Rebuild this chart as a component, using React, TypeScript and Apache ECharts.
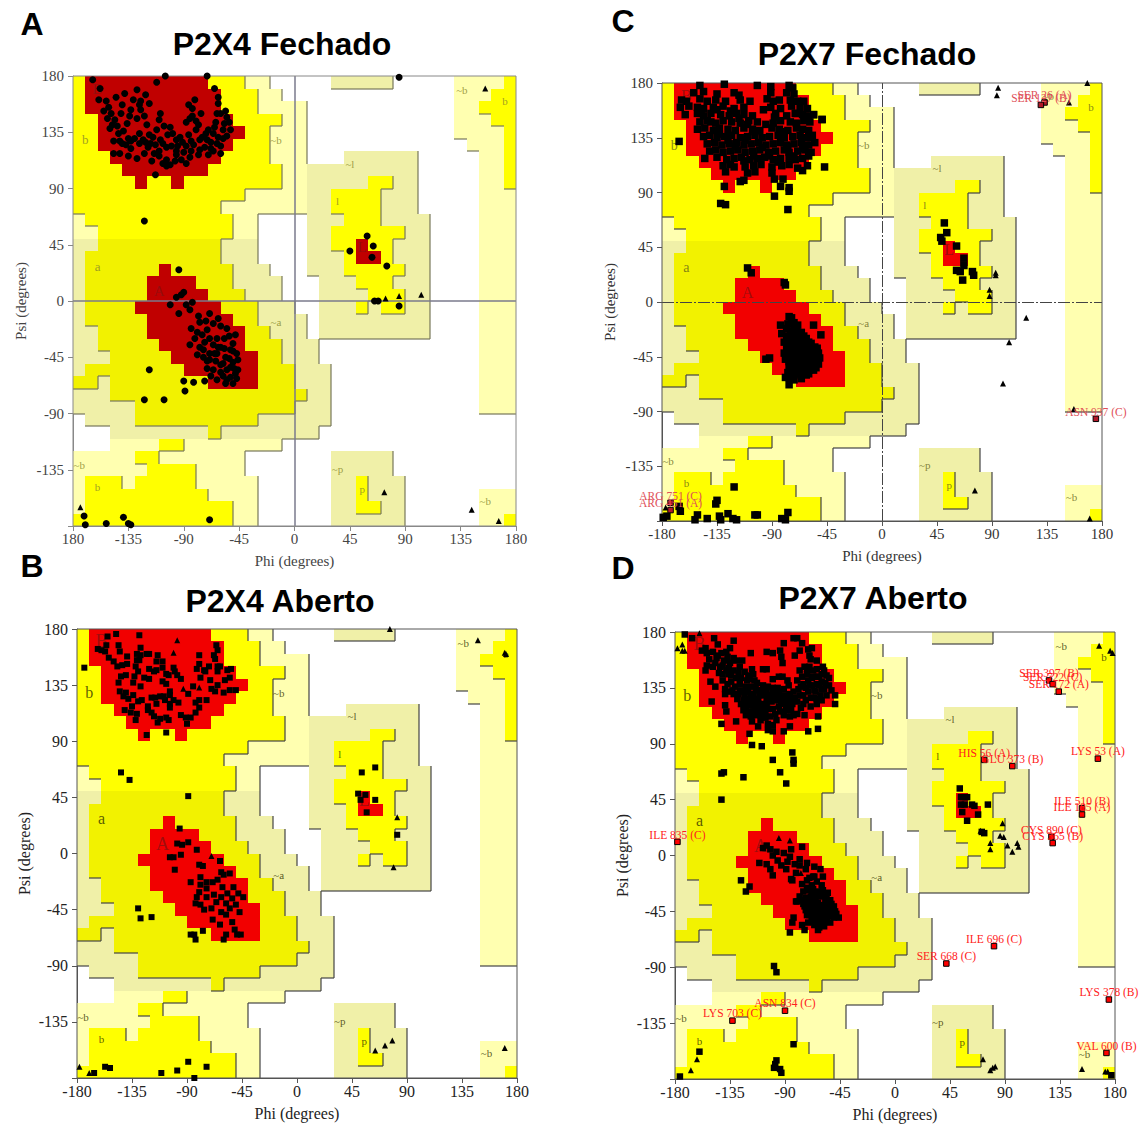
import React, { useEffect, useRef } from "react";
import * as echarts from "echarts";

type P = [number, number];
type L = [number, number, string];

// Region map: rows from psi 180 downwards, runs of 10-degree cells from phi -180.
// R core, Y/G allowed (G is the darker alpha band), P/Q generous (Q darker), W white.
const regionRows: string[] = [
  "Y1 R10 Y3 P2 W5 Q5 W5 P4 Y1",
  "Y1 R11 Y3 P2 W14 P3 Y2",
  "Y1 R11 Y3 P4 W12 P2 Y3",
  "Y2 R11 Y4 P2 W12 P3 Y2",
  "Y2 R12 Y2 P3 W12 P4 Y1",
  "Y2 R11 Y3 P3 W13 P3 Y1",
  "Y3 R9 Y4 P3 W3 Q6 W5 P2 Y1",
  "Y4 R7 Y6 P2 Q9 W5 P2 Y1",
  "Y5 R1 Y2 R1 Y8 P2 Q5 Y2 Q2 W5 P2 Y1",
  "Y14 P5 Q2 Y4 Q3 W5 P3",
  "Y12 P7 Q2 Y4 Q3 W5 P3",
  "P1 Y12 P2 W4 Q3 Y3 Q4 W4 P3",
  "P2 Y11 P2 W4 Q2 Y6 Q2 W4 P3",
  "Q2 G10 Q3 W4 Q2 Y2 R1 Y2 Q3 W4 P3",
  "Q1 G11 Q3 W4 Q3 Y1 R2 Y1 Q3 W4 P3",
  "Q1 G6 R1 G5 Q3 W3 Q3 Y5 Q2 W4 P3",
  "Q1 G5 R4 G3 Q4 W3 Q3 Y3 Q3 W4 P3",
  "Q1 G5 R5 G3 Q3 W3 Q4 Y3 Q2 W4 P3",
  "Q1 G4 R7 G3 Q3 W2 Q3 Y1 Q1 Y2 Q2 W4 P3",
  "Q1 G5 R7 G2 Q4 W1 Q9 W4 P3",
  "Q2 G4 R8 G2 Q3 W1 Q9 W4 P3",
  "Q2 G5 R7 G3 Q3 W13 P3",
  "Q3 G5 R7 G2 Q3 W13 P3",
  "Q1 G8 R6 G3 Q3 W12 P3",
  "G2 Q1 G8 R4 G3 Q3 W12 P3",
  "Q3 G16 Q2 W12 P3",
  "Q5 G13 Q3 W12 P3",
  "W1 Q4 G10 Q6 W15",
  "W3 Q8 G1 Q8 W16",
  "W3 P4 Y2 P8 W19",
  "P5 Y2 P7 W7 Q5 W10",
  "P6 Y4 P4 W7 Q5 W10",
  "P1 Y3 P1 Y5 P5 W6 Q2 Y1 Q3 W9",
  "P1 Y10 P4 W6 Q2 Y1 Q3 W6 P3",
  "P1 Y12 P2 W6 Q2 Y2 Q2 W6 P3",
  "Y13 P2 W6 Q6 W6 P2 Y1",
];

const regionLabels: L[] = [
  [-15, 129, "~b"], [-15, -17, "~a"], [45, 110, "~l"], [35, -134, "~p"], [-175, -131, "~b"],
  [155, -160, "~b"], [136, 169, "~b"], [35, 80, "l"], [55, -150, "p"], [-160, -149, "b"], [171, 160, "b"],
];
const bigLabels: L[] = [[-170, 129, "b"], [-160, 28, "a"]];
const coreLabels: L[] = [[-160, 170, "B"], [-110, 8, "A"], [55, 43, "L"]];

// ---- P2X4 Fechado
const a4Circles: P[] = [
  [-164,177],[-158,170],[-159,161],[-151,155],[-149,150],[-146,145],[-150,138],[-143,134],[-136,142],[-138,166],[-128,169],[-121,165],[-131,161],[-125,153],[-120,141],[-121,127],[-115,131],[-109,150],[-112,175],[-105,180],[-71,180],[-62,163],[-62,158],[-81,161],[-83,154],[-85,146],[-80,137],[-71,129],[-66,134],[-55,147],[-52,137],[-60,118],[-77,121],[-85,115],[-92,113],[-107,110],[-101,109],[-113,101],[-128,114],[-142,118],[-147,118],[-96,129],[-101,139],[-93,131],[-77,129],[-109,129],[-117,126],[-104,123],
  [-155,152],[-152,146],[-141,150],[-139,136],[-140,126],[-133,122],[-126,134],[-123,129],[-128,146],[-133,153],[-125,160],[-110,145],[-106,140],[-113,125],[-110,120],[-100,124],[-96,120],[-88,124],[-84,128],[-75,131],[-70,137],[-64,143],[-60,150],[-57,142],[-55,132],[-63,126],[-68,122],[-80,144],[-76,150],[-86,157],[-65,170],[-63,150],[-135,116],[-122,118],[-90,119],[-104,113],[-118,133],[-112,137],[-135,130],[-147,128],
  [-101,-3],[-94,-10],[-85,-7],[-92,5],[-83,-1],[-69,-10],[-77,-17],[-71,-23],[-79,-25],[-55,-22],[-62,-14],[-85,-35],[-79,-43],[-74,-39],[-66,-35],[-60,-37],[-52,-39],[-47,-42],[-63,-42],[-56,-45],[-69,-47],[-50,-49],[-46,-55],[-55,-55],[-66,-55],[-60,-51],[-71,-54],[-52,-61],[-50,-66],[-55,-63],[-60,-57],[-69,-42],[-50,-34],[-48,-27],[-90,7],[-96,3],[-57,-30],[-63,-30],[-73,-33],[-53,-46],[-48,-58],[-64,-48],[-58,-60],
  [-118,-55],[-90,-64],[-82,-65],[-73,-64],[-89,-72],[-122,-79],[-106,-79],[-94,25],[-122,64],
  [-171,-172],[-170,-179],[-153,-178],[-139,-173],[-135,-178],[-133,-179],[-69,-175],[85,179],[59,52],[64,44],[45,40],[63,35],[75,28],[68,0],[65,0],[85,-4],
];
const a4Dense: P[] = [
  [-144,140],[-142,128],[-137,125],[-130,130],[-126,126],[-119,123],[-114,118],[-107,126],[-103,133],[-99,134],[-95,124],[-91,127],[-86,133],[-82,125],[-78,117],[-73,123],[-68,127],[-62,131],[-58,137],[-53,143],[-56,152],[-58,130],[-65,139],[-72,134],[-78,141],[-83,148],[-88,143],[-122,148],[-126,157],[-118,158],[-134,148],[-140,157],[-145,163],[-153,160],[-148,141],[-133,128],[-110,116],[-116,112],[-97,112],[-88,110],[-104,108],[-96,117],[-84,120],[-70,117],[-66,120],[-60,124],
  [-88,-3],[-78,-12],[-72,-16],[-66,-18],[-60,-20],[-53,-28],[-50,-40],[-46,-47],[-49,-54],[-57,-38],[-62,-37],[-65,-42],[-71,-48],[-74,-45],[-77,-37],[-81,-30],[-84,-22],[-69,-30],[-75,-27],[-58,-50],[-52,-53],[-47,-62],[-56,-66],[-63,-63],[-68,-60],
];
const a4Triangles: P[] = [[-174,-165],[155,170],[74,2],[85,4],[103,5],[73,-153],[144,-167],[166,-176]];

// ---- P2X4 Aberto
const b4Squares: P[] = [
  [-174,149],[-155,174],[-148,176],[-129,175],[-156,167],[-163,164],[-160,163],[-157,162],[-154,157],[-146,167],[-145,162],[-150,154],[-147,150],[-143,151],[-139,158],[-139,152],[-128,165],[-131,160],[-128,159],[-123,160],[-121,160],[-131,155],[-129,155],[-132,150],[-130,146],[-133,142],[-114,159],[-115,154],[-110,154],[-121,148],[-117,146],[-115,147],[-110,149],[-107,144],[-101,149],[-100,146],[-95,140],[-98,143],[-105,143],
  [-140,143],[-144,142],[-146,137],[-125,141],[-121,140],[-134,137],[-128,134],[-110,138],[-107,136],[-145,130],[-140,129],[-142,126],[-138,124],[-134,127],[-141,115],[-135,118],[-127,123],[-130,122],[-122,118],[-122,115],[-136,113],[-131,112],[-132,107],[-119,125],[-116,125],[-112,126],[-109,126],[-104,130],[-104,127],[-101,123],[-97,121],[-115,120],[-108,123],[-104,120],[-104,117],[-119,113],[-117,110],[-114,105],[-112,108],[-107,109],[-105,107],[-123,95],[-107,97],[-95,111],[-91,109],[-87,109],[-90,104],[-83,113],
  [-80,159],[-68,159],[-66,167],[-65,163],[-67,156],[-80,152],[-82,148],[-76,147],[-72,150],[-79,141],[-75,146],[-71,139],[-65,150],[-63,150],[-65,146],[-57,147],[-54,148],[-59,139],[-55,141],[-60,129],[-55,131],[-50,131],[-70,132],[-67,130],[-65,135],[-85,134],[-89,128],[-74,123],[-80,123],[-83,121],[-80,117],
  [-144,65],[-137,59],[-89,46],[-96,20],[-98,8],[-94,7],[-89,9],[-82,3],[-104,-3],[-101,-3],[-95,-1],[-63,-6],[-100,-13],[-80,-9],[-77,-10],[-62,-15],[-60,-17],[-55,-16],[-65,-21],[-69,-23],[-74,-23],[-79,-19],[-87,-23],[-79,-25],[-74,-28],[-80,-31],[-82,-35],[-83,-40],[-79,-41],[-76,-45],[-74,-35],[-68,-33],[-66,-39],[-61,-27],[-57,-32],[-52,-27],[-48,-32],[-44,-35],[-62,-35],[-58,-40],[-53,-36],[-50,-41],[-47,-47],[-55,-44],[-62,-47],[-70,-44],[-58,-49],[-69,-53],[-63,-57],[-53,-55],[-51,-61],[-46,-65],[-49,-65],[-58,-65],[-60,-69],[-77,-62],[-87,-65],[-84,-65],[-83,-69],[-130,-44],[-128,-52],[-119,-51],
  [-166,-176],[-157,-171],[-153,-172],[-111,-176],[-98,-174],[-89,-167],[-74,-171],[-84,-180],[64,69],[53,65],[50,48],[56,47],[64,43],[57,33],[52,43],[82,15],
];
const b4Triangles: P[] = [[-98,171],[-101,161],[-93,132],[-80,133],[-70,-2],[-178,-171],[-170,-176],[148,171],[170,161],[171,160],[76,180],[82,29],[79,-11],[78,-150],[72,-154],[64,-158],[170,-156]];

// ---- P2X7 Fechado
const c7Squares: P[] = [
  [-149,178],[-129,179],[-102,178],[-91,177],[-76,178],[-73,176],
  [-154,172],[-146,173],[-135,171],[-121,172],[-117,170],[-91,172],[-78,172],[-72,171],
  [-164,166],[-160,165],[-149,167],[-143,165],[-136,166],[-116,166],[-108,165],[-94,167],[-89,165],[-75,166],[-69,165],[-64,165],
  [-165,160],[-158,161],[-151,160],[-146,159],[-138,160],[-130,161],[-121,159],[-113,160],[-91,160],[-83,159],[-74,161],[-67,160],[-61,159],
  [-161,154],[-151,155],[-146,153],[-140,155],[-132,154],[-125,153],[-119,155],[-113,154],[-106,153],[-87,155],[-78,153],[-71,155],[-65,154],[-60,153],[-56,154],
  [-149,148],[-143,149],[-136,147],[-130,149],[-123,148],[-116,147],[-109,149],[-102,148],[-89,147],[-83,149],[-75,148],[-70,147],[-64,149],[-59,148],[-49,150],
  [-151,142],[-145,143],[-138,141],[-133,143],[-126,142],[-120,141],[-113,143],[-106,142],[-100,141],[-90,143],[-84,142],[-77,141],[-70,143],[-65,142],[-60,141],
  [-146,136],[-141,137],[-135,135],[-129,136],[-123,137],[-116,135],[-110,136],[-104,137],[-98,135],[-92,136],[-85,137],[-80,135],[-73,136],[-67,137],[-62,135],[-57,137],
  [-143,130],[-137,131],[-131,129],[-125,130],[-119,131],[-113,129],[-107,130],[-101,131],[-95,129],[-89,130],[-83,131],[-78,129],[-72,130],[-66,131],[-60,129],[-55,131],
  [-141,124],[-136,125],[-130,123],[-124,124],[-118,125],[-112,123],[-106,124],[-100,125],[-93,123],[-87,124],[-80,125],[-76,123],[-69,124],[-63,125],[-58,123],
  [-145,118],[-135,119],[-127,117],[-121,118],[-115,119],[-108,117],[-102,118],[-96,119],[-89,117],[-83,118],[-76,119],[-71,117],[-65,118],[-60,120],
  [-130,112],[-124,113],[-112,111],[-105,112],[-99,113],[-90,111],[-82,112],[-76,113],[-69,110],
  [-128,107],[-110,106],[-104,107],[-90,106],
  [-166,132],[-132,81],[-128,80],[-77,76],[-88,87],[-83,95],[-76,94],[-76,91],[-116,99],[-113,100],[-129,95],[-88,101],[-81,101],[-65,108],[-61,112],[-47,111],[-56,154],[-49,150],
  [-110,28],[-107,24],[-80,16],[-79,14],
  [-83,-19],[-82,-26],[-56,-19],[-50,-27],[-95,-47],[-92,-46],[-80,-42],[-76,-68],[-79,-62],
  [-76,-12],[-74,-17],[-78,-22],[-72,-21],[-69,-19],[-75,-27],[-70,-26],[-66,-25],[-80,-33],[-76,-32],[-71,-31],[-66,-31],[-62,-30],[-78,-38],[-73,-37],[-68,-36],[-63,-37],[-58,-34],[-77,-43],[-72,-42],[-67,-41],[-62,-42],[-57,-40],[-53,-38],[-79,-47],[-74,-47],[-69,-46],[-64,-47],[-59,-46],[-54,-44],[-51,-46],[-76,-52],[-71,-51],[-66,-52],[-61,-51],[-56,-50],[-52,-51],[-75,-56],[-70,-56],[-65,-55],[-60,-56],[-56,-56],[-72,-60],[-67,-59],[-62,-60],[-76,-62],
  [-135,-163],[-136,-166],[-121,-152],[-166,-168],[-165,-172],[-151,-175],[-153,-179],[-143,-178],[-133,-176],[-132,-179],[-126,-174],[-122,-178],[-119,-179],[-104,-175],[-102,-175],[-82,-178],[-79,-179],[-77,-173],[-179,-177],[-176,-176],
  [51,65],[53,57],[48,53],[49,50],[61,46],[67,36],[67,30],[61,26],[64,25],[66,18],[74,25],[75,22],
];
const c7Dense: P[] = [
  [-120,128],[-112,133],[-104,140],[-126,133],[-133,138],[-110,146],[-117,151],[-124,157],[-95,146],[-88,152],[-82,140],[-77,128],[-92,120],[-98,127],[-105,120],[-113,116],[-121,111],[-85,115],[-72,120],[-140,148],[-148,155],[-135,158],[-128,165],[-97,158],[-84,166],[-65,126],[-58,135],[-70,155],
  [-74,-13],[-72,-17],[-77,-18],[-70,-22],[-74,-24],[-78,-28],[-73,-29],[-68,-29],[-64,-28],[-74,-33],[-69,-33],[-64,-34],[-60,-33],[-75,-40],[-70,-39],[-65,-39],[-60,-39],[-55,-37],[-77,-45],[-71,-44],[-66,-44],[-61,-44],[-56,-43],[-52,-42],[-76,-49],[-72,-49],[-67,-49],[-62,-49],[-57,-48],[-53,-48],[-73,-54],[-68,-54],[-63,-54],[-58,-53],[-54,-54],[-70,-58],[-65,-58],[-60,-59],[-66,-63],[-72,-64],[-77,-58],
];
const c7Triangles: P[] = [[-177,-169],[95,176],[94,170],[168,180],[153,164],[93,22],[93,24],[88,10],[88,5],[118,-13],[104,-33],[99,-67],[157,-88],[76,-155],[170,-178]];
const c7Labelled: L[] = [[133,164,"SER 26 (A)"],[130,162,"SER 127 (B)"],[175,-96,"ASN 937 (C)"],[-173,-165,"ARG 751 (C)"],[-173,-171,"ARG 451 (A)"]];

// ---- P2X7 Aberto
const d7Squares: P[] = [
  [-172,178],[-166,175],[-142,106],[-119,98],[-117,89],[-109,88],[-84,83],[-100,77],[-83,77],[-83,74],[-94,67],[-89,58],[-124,63],[-142,66],[-140,67],[-142,45],[-63,102],[-71,100],[-49,122],[-49,129],
  [-148,175],[-145,170],[-132,173],[-135,167],[-91,171],[-83,175],[-80,175],[-76,171],[-71,166],[-68,167],[-78,165],[-94,165],[-105,164],[-100,163],[-118,163],[-82,161],[-93,160],[-92,155],[-70,161],[-69,158],[-64,157],
  [-155,167],[-158,165],[-154,163],[-149,164],[-142,163],[-138,164],[-132,159],[-146,159],[-140,157],[-135,155],[-130,157],[-154,153],[-155,149],[-147,155],[-143,152],[-138,149],[-132,149],[-127,152],[-123,148],[-117,150],[-116,146],[-108,150],[-105,150],[-151,140],[-147,136],[-150,124],[-139,134],[-134,140],[-131,136],[-127,138],[-121,141],[-117,136],[-139,130],[-136,132],[-132,130],[-128,130],[-124,132],[-120,132],[-116,130],[-112,133],[-108,137],[-104,136],[-100,142],[-95,144],[-92,144],[-139,121],[-138,116],[-124,125],[-120,126],[-116,126],[-112,126],[-108,129],[-104,129],[-100,130],[-95,132],[-91,134],[-87,137],[-83,132],[-79,134],[-75,138],[-71,141],[-67,144],[-78,149],[-74,152],[-70,152],[-64,150],[-59,152],[-56,145],[-60,146],[-64,144],[-68,137],[-64,138],[-60,140],[-54,137],[-52,133],[-56,129],[-61,129],[-65,132],[-71,132],[-75,129],[-80,124],[-85,126],[-89,126],[-93,124],[-97,125],[-101,124],[-105,122],[-109,122],[-113,121],[-117,121],[-121,121],[-124,117],[-120,116],[-116,116],[-112,117],[-108,117],[-104,118],[-100,118],[-95,120],[-89,117],[-85,117],[-80,114],[-75,122],[-69,120],[-64,122],[-63,112],[-74,113],[-86,112],[-91,113],[-97,109],[-117,108],[-112,104],[-104,106],[-100,105],[-104,101],[-100,100],[-91,100],[-86,104],[-130,108],
  [-118,128],[-122,136],[-113,139],[-110,113],[-105,126],[-126,143],[-141,146],[-136,146],[-130,143],[-66,127],[-60,134],[-72,146],[-67,149],
  [-126,-20],[-122,-29],[-119,-25],[-111,-6],[-105,-7],[-102,-11],[-100,-16],[-89,-11],[-82,-7],[-78,-8],[-73,-11],[-67,-17],[-61,-11],[-59,-17],[-81,-37],[-83,-50],[-84,-54],[-86,-62],[-76,-56],[-74,-60],[-63,-60],[-71,-54],[-53,-54],[-46,-50],
  [-105,8],[-108,6],[-102,5],[-100,0],[-97,3],[-96,-4],[-91,2],[-76,7],[-86,-1],[-81,-14],[-85,-19],
  [-76,-23],[-72,-20],[-68,-24],[-64,-21],[-60,-24],[-75,-29],[-71,-28],[-67,-27],[-63,-29],[-59,-28],[-55,-30],[-78,-33],[-73,-34],[-69,-33],[-65,-35],[-61,-33],[-57,-35],[-53,-36],[-80,-37],[-75,-39],[-71,-38],[-67,-40],[-63,-38],[-59,-40],[-55,-40],[-50,-41],[-73,-44],[-69,-43],[-65,-45],[-61,-44],[-57,-45],[-53,-46],[-49,-45],[-70,-48],[-66,-50],[-62,-49],[-58,-50],[-54,-49],[-68,-53],[-63,-54],[-59,-54],[-56,-53],
  [-99,-89],[-97,-94],[-160,-158],[-83,-152],[-97,-165],[-98,-168],[-99,-171],[-94,-172],[-93,-175],[-176,-178],[177,-177],
  [53,54],[54,47],[57,47],[59,47],[54,41],[57,41],[63,41],[65,40],[55,35],[68,33],[59,28],[76,41],[71,19],[73,18],
];
const d7Dense: P[] = [
  [-152,158],[-149,152],[-144,147],[-141,141],[-137,138],[-133,133],[-129,126],[-126,122],[-122,113],[-118,112],[-114,113],[-110,109],[-106,111],[-102,112],[-98,114],[-94,116],[-92,122],[-88,121],[-84,122],[-82,127],[-78,129],[-77,136],[-73,135],[-70,137],[-66,133],[-62,137],[-58,134],[-57,139],[-62,144],[-58,149],[-54,143],[-68,143],[-72,150],[-76,144],[-80,141],[-119,142],[-115,141],[-111,129],[-118,124],[-122,119],[-114,135],[-109,133],[-105,133],[-102,127],[-98,128],[-94,128],[-90,129],[-86,130],[-120,145],[-125,157],[-136,151],[-141,153],[-134,145],[-128,147],[-145,161],[-137,160],[-115,118],[-106,115],[-112,123],[-123,128],[-127,133],[-96,135],[-100,135],[-88,141],[-73,125],[-77,119],[-83,113],[-69,127],[-64,126],[-60,125],
  [-70,-18],[-66,-17],[-72,-26],[-68,-31],[-64,-32],[-60,-31],[-56,-33],[-52,-39],[-76,-36],[-72,-36],[-68,-37],[-64,-41],[-60,-42],[-56,-43],[-52,-43],[-48,-47],[-74,-41],[-71,-42],[-67,-46],[-63,-47],[-59,-47],[-55,-47],[-50,-50],[-72,-48],[-68,-50],[-64,-52],[-60,-51],[-56,-51],[-66,-56],[-62,-58],[-58,-57],[-84,-20],[-88,-5],[-93,-8],[-85,5],[-78,-3],[-72,-6],[-66,-9],
];
const d7Triangles: P[] = [[-178,167],[-174,170],[-174,165],[-172,165],[-160,179],[-95,14],[-86,12],[-77,-14],[-167,-173],[-162,-164],[72,-164],[82,-170],[80,-171],[78,-173],[153,-172],[172,-174],[174,-174],[88,26],[70,20],[86,16],[89,15],[78,10],[78,5],[92,8],[100,10],[101,7],[96,3],[167,169],[176,165],[178,163]];
const d7Labelled: L[] = [[73,77,"HIS 56 (A)"],[96,72,"GLU 373 (B)"],[166,78,"LYS 53 (A)"],[126,141,"SER 397 (B)"],[129,138,"SER 722 (C)"],[134,132,"SER 172 (A)"],[153,38,"ILE 510 (B)"],[153,33,"ILE 185 (A)"],[128,15,"CYS 890 (C)"],[129,10,"CYS 365 (B)"],[-178,11,"ILE 835 (C)"],[81,-73,"ILE 696 (C)"],[42,-87,"SER 668 (C)"],[175,-116,"LYS 378 (B)"],[-90,-125,"ASN 834 (C)"],[-133,-133,"LYS 703 (C)"],[173,-159,"VAL 600 (B)"]];

const panels = [
  { letter: "A", lx: 32, ly: 24, title: "P2X4 Fechado", tx: 282, ty: 44, left: 73, top: 76, w: 443, h: 450, red: "#c00000", line: "#77775a", frame: "#888888", text: "#444444", soft: "#86862a", core: "#8a1010", cross: "solid", marker: "circle", size: 7, pts: [...a4Circles, ...a4Dense], tris: a4Triangles, out: [] as L[], outFill: "#ff0000", outText: "#ff0000", firstX: "180", labelSize: 15, bigSize: 13 },
  { letter: "B", lx: 32, ly: 566, title: "P2X4 Aberto", tx: 280, ty: 601, left: 77, top: 629, w: 440, h: 449, red: "#f20000", line: "#444444", frame: "#555555", text: "#222222", soft: "#333300", core: "#8a1010", cross: "", marker: "rect", size: 6, pts: b4Squares, tris: b4Triangles, out: [] as L[], outFill: "#ff0000", outText: "#ff0000", firstX: "-180", labelSize: 16, bigSize: 16 },
  { letter: "C", lx: 623, ly: 21, title: "P2X7 Fechado", tx: 867, ty: 54, left: 662, top: 83, w: 440, h: 438, red: "#f20000", line: "#444444", frame: "#555555", text: "#333333", soft: "#66661a", core: "#8a1010", cross: "dash", marker: "rect", size: 7.5, pts: [...c7Squares, ...c7Dense], tris: c7Triangles, out: c7Labelled, outFill: "#b01828", outText: "#e05058", firstX: "-180", labelSize: 15, bigSize: 14 },
  { letter: "D", lx: 623, ly: 568, title: "P2X7 Aberto", tx: 873, ty: 598, left: 675, top: 632, w: 440, h: 447, red: "#f20000", line: "#444444", frame: "#555555", text: "#222222", soft: "#333300", core: "#8a1010", cross: "", marker: "rect", size: 6.5, pts: [...d7Squares, ...d7Dense], tris: d7Triangles, out: d7Labelled, outFill: "#ff0000", outText: "#ff2020", firstX: "-180", labelSize: 16, bigSize: 16 },
];

const SERIF = "'Liberation Serif', serif";
const SANS = "'Liberation Sans', sans-serif";
const codes = ["R", "Y", "G", "P", "Q"];
const level: Record<string, number> = { W: 0, P: 1, Q: 1, Y: 2, G: 2, R: 3 };

function expandRows(): string[][] {
  return regionRows.map((row) => {
    const cells: string[] = [];
    row.split(" ").forEach((run) => {
      const n = parseInt(run.slice(1), 10);
      for (let i = 0; i < n; i++) cells.push(run[0]);
    });
    return cells;
  });
}

function regionData() {
  const out: number[][] = [];
  regionRows.forEach((row, r) => {
    let k = 0;
    row.split(" ").forEach((run) => {
      const n = parseInt(run.slice(1), 10);
      const c = codes.indexOf(run[0]);
      if (c >= 0) out.push([-180 + 10 * k, 180 - 10 * r, -180 + 10 * (k + n), 170 - 10 * r, c]);
      k += n;
    });
  });
  return out;
}

function edgeData() {
  const g = expandRows();
  const out: number[][] = [];
  for (let r = 0; r < 36; r++) {
    for (let k = 0; k < 36; k++) {
      const l = level[g[r][k]];
      if (l === 3 || l === 0) continue;
      const phi = -180 + 10 * (k + 1);
      if (k < 35 && l > level[g[r][k + 1]]) out.push([phi, 180 - 10 * r, phi, 170 - 10 * r]);
      if (r < 35 && l > level[g[r + 1][k]]) out.push([phi - 10, 170 - 10 * r, phi, 170 - 10 * r]);
    }
  }
  return out;
}

function textSeries(i: number, data: L[], color: string, size: number, z: number) {
  return {
    type: "scatter", xAxisIndex: i, yAxisIndex: i, z, symbolSize: 0, silent: true,
    data: data.map((d) => ({ value: [d[0], d[1]], name: d[2] })),
    label: { show: true, position: "inside", formatter: "{b}", color, fontFamily: SERIF, fontSize: size },
  };
}

function buildOption() {
  const regions = regionData();
  const edges = edgeData();
  const grid: any[] = [], xAxis: any[] = [], yAxis: any[] = [], series: any[] = [], graphic: any[] = [];
  panels.forEach((p, i) => {
    const colours = [p.red, "#ffff00", "#f2f200", "#ffffb0", "#f0f0a8"];
    grid.push({ left: p.left, top: p.top, width: p.w, height: p.h, containLabel: false });
    xAxis.push({
      gridIndex: i, type: "value", min: -180, max: 180, interval: 45, name: "Phi (degrees)", nameLocation: "middle", nameGap: 27,
      nameTextStyle: { fontFamily: SERIF, fontSize: p.labelSize, color: p.text },
      axisLine: { show: true, onZero: false, lineStyle: { color: p.frame } },
      axisTick: { show: true, length: 5, lineStyle: { color: p.frame } },
      splitLine: { show: false },
      axisLabel: { show: true, margin: 5, showMinLabel: true, showMaxLabel: true, fontFamily: SERIF, fontSize: p.labelSize, color: p.text,
        formatter: (v: number) => (v === -180 ? p.firstX : String(v)) },
    });
    yAxis.push({
      gridIndex: i, type: "value", min: -180, max: 180, interval: 45, name: "Psi (degrees)", nameLocation: "middle", nameGap: 45,
      nameTextStyle: { fontFamily: SERIF, fontSize: p.labelSize, color: p.text },
      axisLine: { show: true, onZero: false, lineStyle: { color: p.frame } },
      axisTick: { show: true, length: 5, lineStyle: { color: p.frame } },
      splitLine: { show: false },
      axisLabel: { show: true, margin: 9, showMinLabel: true, showMaxLabel: true, fontFamily: SERIF, fontSize: p.labelSize, color: p.text,
        formatter: (v: number) => (v === -180 ? "" : String(v)) },
    });
    series.push({
      type: "custom", xAxisIndex: i, yAxisIndex: i, z: 1, silent: true, data: regions,
      renderItem: (_: any, api: any) => {
        const a = api.coord([api.value(0), api.value(1)]);
        const b = api.coord([api.value(2), api.value(3)]);
        const x = Math.round(a[0]), y = Math.round(a[1]);
        return { type: "rect", shape: { x, y, width: Math.round(b[0]) - x, height: Math.round(b[1]) - y }, style: { fill: colours[api.value(4)] } };
      },
    });
    series.push({
      type: "custom", xAxisIndex: i, yAxisIndex: i, z: 2, silent: true, data: edges,
      renderItem: (_: any, api: any) => {
        const a = api.coord([api.value(0), api.value(1)]);
        const b = api.coord([api.value(2), api.value(3)]);
        return { type: "line", shape: { x1: Math.round(a[0]), y1: Math.round(a[1]), x2: Math.round(b[0]), y2: Math.round(b[1]) }, style: { stroke: p.line, lineWidth: 1.2 } };
      },
    });
    series.push({
      type: "custom", xAxisIndex: i, yAxisIndex: i, z: 3, silent: true, data: [[-180, 180, 180, -180]],
      renderItem: (_: any, api: any) => {
        const a = api.coord([api.value(0), api.value(1)]);
        const b = api.coord([api.value(2), api.value(3)]);
        return { type: "rect", shape: { x: a[0], y: a[1], width: b[0] - a[0], height: b[1] - a[1] }, style: { fill: "none", stroke: p.frame, lineWidth: 1 } };
      },
    });
    series.push(textSeries(i, regionLabels, p.soft, 11, 4));
    series.push(textSeries(i, bigLabels, p.soft, p.bigSize, 4));
    series.push(textSeries(i, coreLabels, p.core, p.bigSize + 2, 4));
    series.push({
      type: "scatter", xAxisIndex: i, yAxisIndex: i, z: 6, silent: true, symbol: p.marker, symbolSize: p.size, data: p.pts, clip: false,
      itemStyle: { color: "#000000", opacity: 1 },
      markLine: p.cross ? {
        silent: true, symbol: "none", animation: false, z: 3, label: { show: false },
        lineStyle: { color: p.cross === "solid" ? "#7a7a8c" : "#444444", width: p.cross === "solid" ? 1.5 : 1, type: p.cross === "solid" ? "solid" : [12, 2, 2, 2] },
        data: [{ xAxis: 0 }, { yAxis: 0 }],
      } : undefined,
    });
    series.push({
      type: "scatter", xAxisIndex: i, yAxisIndex: i, z: 6, silent: true, symbol: "triangle", symbolSize: 6, data: p.tris, clip: false,
      itemStyle: { color: "#000000", opacity: 1 },
    });
    if (p.out.length) {
      series.push({
        type: "scatter", xAxisIndex: i, yAxisIndex: i, z: 7, silent: true, symbol: "rect", symbolSize: 5.5, clip: false,
        data: p.out.map((d) => ({ value: [d[0], d[1]], name: d[2] })),
        itemStyle: { color: p.outFill, borderColor: "#000000", borderWidth: 1, opacity: 1 },
        label: { show: true, position: "top", distance: 2, offset: [0, 4], formatter: "{b}", color: p.outText, fontFamily: SERIF, fontSize: 11.5 },
      });
    }
    graphic.push({ type: "text", x: p.lx, y: p.ly, style: { text: p.letter, fontFamily: SANS, fontWeight: "bold", fontSize: 32, fill: "#000", textAlign: "center", textVerticalAlign: "middle" } });
    graphic.push({ type: "text", x: p.tx, y: p.ty, style: { text: p.title, fontFamily: SANS, fontWeight: "bold", fontSize: 32, fill: "#000", textAlign: "center", textVerticalAlign: "middle" } });
  });
  return { animation: false, backgroundColor: "#ffffff", grid, xAxis, yAxis, series, graphic };
}

export default function App() {
  const ref = useRef<HTMLDivElement>(null);
  useEffect(() => {
    document.body.style.margin = "0";
    const chart = echarts.init(ref.current!, undefined, { renderer: "svg" });
    chart.setOption(buildOption() as any);
    return () => chart.dispose();
  }, []);
  return <div ref={ref} style={{ width: 1144, height: 1124 }} />;
}
